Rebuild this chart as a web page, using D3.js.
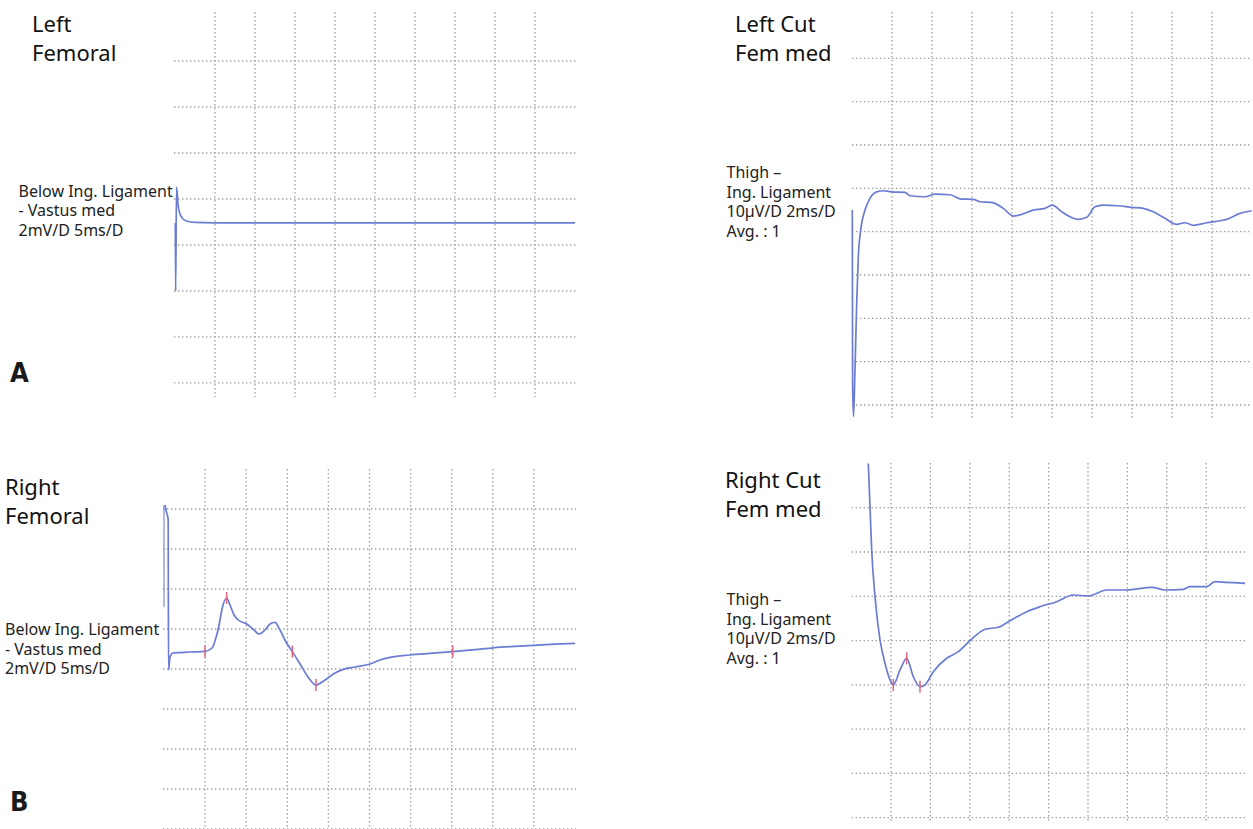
<!DOCTYPE html>
<html>
<head>
<meta charset="utf-8">
<script src="https://cdn.jsdelivr.net/npm/d3@7"></script>
<style>
  body { margin: 0; background: #fff; }
  svg { display: block; font-family: "Noto Sans", "Open Sans", sans-serif; }
</style>
</head>
<body>
<svg id="chart" width="1253" height="829"></svg>
<script>
// ---- data (time in ms, amplitude in mV or µV) ----
// A: left femoral motor, 2 mV/D 5 ms/D
const leftFemTime = [0.04, 0.08, 0.19, 0.38, 0.63, 1.0, 1.63, 2.5, 5, 15, 25, 35, 50];
const leftFemAmp = [-1.04, -4.0, 0.52, -0.26, -0.65, -0.87, -0.98, -1.02, -1.04, -1.04, -1.04, -1.04, -1.04];

// B: right femoral motor, 2 mV/D 5 ms/D
const rightFemTime = [0.12, 0.30, 0.43, 0.51, 0.55, 0.73, 1.09, 1.95, 3.16, 4.99, 5.84, 6.57, 7.18, 7.63,
  8.03, 8.52, 9.04, 10.06, 10.83, 11.59, 12.29, 12.9, 13.5, 14.11, 14.84, 15.61, 16.55, 17.52, 18.49,
  19.59, 20.8, 21.81, 23.24, 25.06, 26.28, 27.49, 29.93, 32.36, 35.12, 37.83, 40.06, 42.7, 44.93, 47.57, 50];
const rightFemAmp = [6.2, 5.85, 5.65, 5.45, -2.05, -1.4, -1.2, -1.18, -1.15, -1.12, -0.95, -0.05, 1.2, 1.55,
  1.2, 0.7, 0.45, 0.25, 0.0, -0.25, -0.05, 0.25, 0.33, -0.05, -0.65, -1.13, -1.75, -2.4, -2.8,
  -2.55, -2.2, -2.02, -1.9, -1.75, -1.55, -1.42, -1.3, -1.22, -1.13, -1.03, -0.94, -0.87, -0.82, -0.76, -0.72];
const rightFemMarkTime = [4.99, 7.63, 15.61, 18.49, 35.12];
const rightFemMarkAmp = [-1.12, 1.55, -1.13, -2.8, -1.13];
const rightFemCal = [6.2, 1.1];

// C: left saphenous (cut. fem. med), 10 µV/D 2 ms/D
const leftCutTime = [0.015, 0.03, 0.075, 0.15, 0.235, 0.315, 0.435, 0.65, 0.9, 1.235, 1.565, 1.985, 2.65, 2.9,
  3.65, 4.15, 4.9, 5.485, 6.065, 6.4, 6.985, 7.565, 8.065, 8.485, 9.065, 9.65, 10.015, 10.485, 10.9,
  11.315, 11.735, 12.15, 12.565, 13.315, 13.985, 14.565, 15.065, 15.65, 16.235, 16.65, 17.065, 17.735,
  18.4, 18.735, 19.4, 19.985];
const leftCutAmp = [-5.0, -44.9, -52.7, -41.9, -26.5, -15.9, -9.6, -5.0, -2.3, -0.8, -0.55, -0.8, -0.92, -1.7,
  -1.94, -1.32, -1.48, -2.47, -2.54, -3.09, -3.23, -4.62, -6.39, -6.0, -5.01, -4.62, -3.85, -5.4, -6.55,
  -7.15, -6.69, -4.25, -3.85, -4.02, -4.38, -4.62, -5.4, -6.92, -8.31, -7.94, -8.54, -7.94,
  -7.48, -7.15, -5.77, -5.17];

// D: right saphenous (cut. fem. med), 10 µV/D 2 ms/D
const rightCutTime = [0.848, 0.934, 1.02, 1.188, 1.442, 1.695, 1.949, 2.117, 2.457, 2.797, 3.132, 3.472, 3.726,
  4.147, 4.827, 5.416, 6.01, 6.772, 7.447, 8.041, 8.888, 9.563, 10.411, 11.254, 12.015, 12.95, 13.964,
  15.234, 15.909, 16.838, 17.178, 18.025, 18.447, 19.041, 19.97];
const rightCutAmp = [40.0, 30.2, 20.45, 9.91, 0.14, -5.12, -8.88, -10.02, -6.64, -4.0, -8.15, -10.41, -10.02,
  -7.02, -4.0, -2.51, -0.02, 2.55, 3.0, 4.49, 6.52, 7.65, 8.78, 10.29, 10.07, 11.42, 11.42,
  12.03, 11.42, 11.58, 12.17, 12.17, 13.3, 13.16, 12.93];
const rightCutMarkTime = [2.117, 2.797, 3.472];
const rightCutMarkAmp = [-10.02, -4.0, -10.41];

// ---- layout ----
const svg = d3.select('#chart');
const traceColor = '#6b7cd3';
const markColor = '#e3647c';
const gridColor = '#9e9e9e';

const panels = [
  { time: leftFemTime, amp: leftFemAmp, markT: [], markA: [], cal: null,
    left: 175, right: 575, top: 12, bottom: 397, tMax: 50, tStep: 5,
    vTop: 8.13, vBottom: -8.61, hLines: d3.range(6, -9, -2), hPad: 1 },
  { time: rightFemTime, amp: rightFemAmp, markT: rightFemMarkTime, markA: rightFemMarkAmp, cal: rightFemCal,
    left: 164, right: 575, top: 469, bottom: 829, tMax: 50, tStep: 5,
    vTop: 8, vBottom: -10, hLines: d3.range(6, -11, -2), hPad: 1 },
  { time: leftCutTime, amp: leftCutAmp, markT: [], markA: [], cal: null,
    left: 852, right: 1252, top: 12, bottom: 418, tMax: 20, tStep: 2,
    vTop: 40.7, vBottom: -53, hLines: d3.range(30, -51, -10), hPad: 0 },
  { time: rightCutTime, amp: rightCutAmp, markT: rightCutMarkTime, markA: rightCutMarkAmp, cal: null,
    left: 851.6, right: 1245.6, top: 463, bottom: 823, tMax: 20, tStep: 2,
    vTop: 40.1, vBottom: -41.2, hLines: d3.range(30, -41, -10), hPad: 0 }
];

panels.forEach(p => {
  const x = d3.scaleLinear().domain([0, p.tMax]).range([p.left, p.right]);
  const y = d3.scaleLinear().domain([p.vTop, p.vBottom]).range([p.top, p.bottom]);
  const g = svg.append('g');

  // dotted grid
  g.selectAll('.vgrid')
    .data(d3.range(p.tStep, p.tMax, p.tStep))
    .join('line')
    .attr('x1', d => x(d)).attr('x2', d => x(d))
    .attr('y1', p.top).attr('y2', p.bottom)
    .attr('stroke', gridColor)
    .attr('stroke-width', 1.3)
    .attr('stroke-dasharray', '1.4,2.6');

  g.selectAll('.hgrid')
    .data(p.hLines)
    .join('line')
    .attr('x1', p.left - p.hPad).attr('x2', p.right + p.hPad)
    .attr('y1', d => y(d)).attr('y2', d => y(d))
    .attr('stroke', gridColor)
    .attr('stroke-width', 1.3)
    .attr('stroke-dasharray', '1.4,2.6');

  // calibration bar at stimulus
  if (p.cal) {
    g.append('line')
      .attr('x1', x(0)).attr('x2', x(0))
      .attr('y1', y(p.cal[0])).attr('y2', y(p.cal[1]))
      .attr('stroke', traceColor)
      .attr('stroke-width', 1.3)
      .attr('opacity', 0.8);
  }

  // waveform
  const pts = p.time.map((t, i) => [t, p.amp[i]]);
  g.append('path')
    .datum(pts)
    .attr('fill', 'none')
    .attr('stroke', traceColor)
    .attr('stroke-width', 1.7)
    .attr('stroke-linejoin', 'round')
    .attr('d', d3.line().curve(d3.curveMonotoneX).x(d => x(d[0])).y(d => y(d[1])));

  // latency markers
  g.selectAll('.mark')
    .data(p.markT.map((t, i) => [t, p.markA[i]]))
    .join('line')
    .attr('x1', d => x(d[0])).attr('x2', d => x(d[0]))
    .attr('y1', d => y(d[1]) - 6).attr('y2', d => y(d[1]) + 6)
    .attr('stroke', markColor)
    .attr('stroke-width', 1.5);
});

// ---- text ----
const titles = [
  { x: 32, y: 32, lines: ['Left', 'Femoral'] },
  { x: 5, y: 495, lines: ['Right', 'Femoral'] },
  { x: 735, y: 32, lines: ['Left Cut', 'Fem med'] },
  { x: 725, y: 488, lines: ['Right Cut', 'Fem med'] }
];
titles.forEach(t => {
  svg.append('g').selectAll('text')
    .data(t.lines)
    .join('text')
    .attr('x', t.x)
    .attr('y', (d, i) => t.y + i * 28.7)
    .attr('font-size', 22)
    .attr('fill', '#111')
    .text(d => d);
});

const notes = [
  { x: 18.5, y: 196.5, lines: ['Below Ing. Ligament', '- Vastus med', '2mV/D 5ms/D'] },
  { x: 5, y: 635, lines: ['Below Ing. Ligament', '- Vastus med', '2mV/D 5ms/D'] },
  { x: 726.5, y: 178.3, lines: ['Thigh –', 'Ing. Ligament', '10µV/D 2ms/D', 'Avg. : 1'] },
  { x: 726.5, y: 605, lines: ['Thigh –', 'Ing. Ligament', '10µV/D 2ms/D', 'Avg. : 1'] }
];
notes.forEach(n => {
  svg.append('g').selectAll('text')
    .data(n.lines)
    .join('text')
    .attr('x', n.x)
    .attr('y', (d, i) => n.y + i * 19.5)
    .attr('font-size', 16)
    .attr('fill', '#222')
    .text(d => d);
});

svg.selectAll('.panel-letter')
  .data([{ x: 10, y: 381.5, s: 'A' }, { x: 10, y: 810.5, s: 'B' }])
  .join('text')
  .attr('x', d => d.x)
  .attr('y', d => d.y)
  .attr('font-family', '"Liberation Sans Narrow", "DejaVu Sans Condensed", sans-serif')
  .attr('font-weight', 'bold')
  .attr('font-size', 27)
  .attr('fill', '#1a1a1a')
  .text(d => d.s);
</script>
</body>
</html>
